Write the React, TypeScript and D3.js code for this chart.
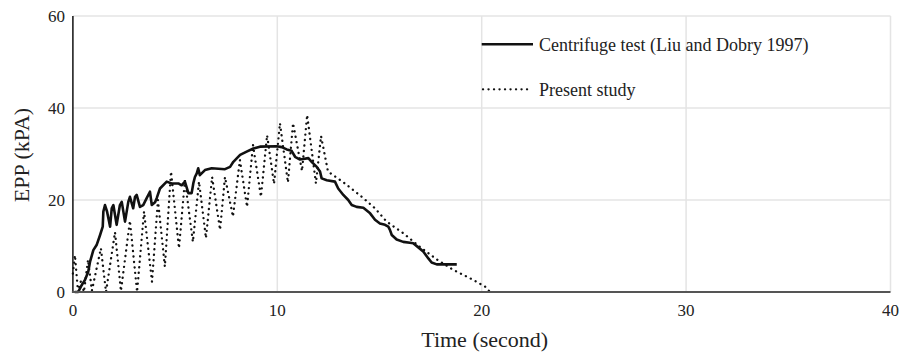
import React from "react";
import * as d3 from "d3";

// Centrifuge test record (Liu and Dobry 1997): time (s) and excess pore pressure (kPa)
const centrifugeTime = [
  0.09, 0.26, 0.43, 0.59, 0.75, 0.84, 1.0, 1.16, 1.33, 1.46, 1.49, 1.57, 1.67, 1.82, 1.9, 1.98,
  2.14, 2.3, 2.39, 2.55, 2.71, 2.79, 2.95, 3.04, 3.12, 3.28, 3.44, 3.61, 3.77, 3.86, 4.02, 4.1,
  4.26, 4.59, 4.83, 5.16, 5.32, 5.48, 5.65, 5.81, 5.89, 5.97, 6.06, 6.13, 6.21, 6.46, 6.79, 7.44,
  7.69, 7.85, 8.18, 8.5, 8.83, 9.15, 9.97, 10.22, 10.46, 10.7, 10.87, 11.11, 11.52, 11.68, 11.93,
  12.09, 12.17, 12.42, 12.82, 12.98, 13.23, 13.47, 13.64, 13.88, 14.21, 14.54, 14.78, 15.02, 15.27,
  15.43, 15.51, 15.6, 15.84, 16.16, 16.49, 16.65, 16.9, 17.14, 17.39, 17.55, 17.8, 18.78,
];
const centrifugeEPP = [
  0, 0, 1.5, 2.6, 4.4, 6.6, 9.1, 10.2, 12.4, 14.2, 17.5, 18.9, 17.5, 14.2, 18.2, 18.9,
  14.6, 18.9, 19.6, 15.3, 19.6, 20.7, 18.2, 20.7, 21.1, 18.5, 18.9, 20.4, 21.8, 18.9, 19.5, 20.4,
  22.5, 24, 23.6, 23.6, 23.2, 24, 21.5, 21.5, 23.6, 25, 25.8, 26.9, 25.4, 26.5, 26.9, 26.7,
  27.2, 28.3, 29.8, 30.5, 31.2, 31.6, 31.7, 31.5, 31, 30.7, 29.4, 28.8, 29.1, 28.3, 27.2,
  26.2, 24.7, 24.3, 24, 22.5, 21.1, 20, 18.9, 18.5, 18.3, 17.1, 15.7, 14.9, 14.6,
  14.2, 13.5, 12.4, 11.4, 10.9, 10.7, 10.6, 9.7, 8.8, 7.3, 6.4, 6.0, 6.0,
];

// Present study simulation: time (s) and excess pore pressure (kPa)
const presentTime = [
  0.0, 0.1, 0.25, 0.4, 0.54, 0.74, 0.93, 1.37, 1.62, 2.06, 2.35, 2.79, 3.14, 3.48, 3.87, 4.16,
  4.5, 4.8, 5.19, 5.48, 5.87, 6.17, 6.51, 6.81, 7.2, 7.44, 7.83, 8.17, 8.52, 8.81, 9.2, 9.5,
  9.84, 10.13, 10.52, 10.77, 11.21, 11.46, 11.89, 12.14, 12.48, 13.31, 14.13, 14.78, 15.35,
  16.16, 16.98, 17.8, 18.61, 19.43, 20.16, 20.41,
];
const presentEPP = [
  4, 8, 0, 2.5, 0, 7, 0.3, 9.5, 0, 13, 0.2, 15.5, 0, 17.5, 2.2, 20,
  5.5, 26.2, 9.5, 24.3, 10.9, 24, 11.7, 25, 13.5, 25, 16.4, 28.7, 18.5, 32, 20.7, 34.1,
  23.5, 36.7, 23.8, 36.7, 26.3, 38.5, 23.6, 33.9, 26.2, 23.6, 20.7, 18.2, 15.3,
  12.8, 9.8, 7.1, 4.8, 3.0, 1.2, 0,
];

const xTicks = [0, 10, 20, 30, 40];
const yTicks = [0, 20, 40, 60];
const seriesNames = ["Centrifuge test (Liu and Dobry 1997)", "Present study"];

const W = 915;
const H = 352;
const FONT = '"Liberation Serif", "Times New Roman", "DejaVu Serif", serif';

export default function App() {
  const x = d3.scaleLinear().domain([0, 40]).range([72.9, 890.5]);
  const y = d3.scaleLinear().domain([0, 60]).range([292, 16]);

  const line = d3
    .line<[number, number]>()
    .x((d) => x(d[0]))
    .y((d) => y(d[1]))
    .curve(d3.curveLinear);

  const centrifuge = centrifugeTime.map((t, i) => [t, centrifugeEPP[i]] as [number, number]);
  const present = presentTime.map((t, i) => [t, presentEPP[i]] as [number, number]);

  const dotted = { strokeDasharray: "0.1 5.4", strokeLinecap: "round" as const };
  const txt = { fontFamily: FONT, fill: "#222" };

  return (
    <svg
      width={W}
      height={H}
      style={{ position: "absolute", left: 0, top: 0, background: "#fff" }}
    >
      {/* grid */}
      {yTicks.filter((v) => v > 0).map((v) => (
        <line key={"gy" + v} x1={x(0)} x2={x(40)} y1={y(v)} y2={y(v)} stroke="#e4e4e4" strokeWidth={1.5} />
      ))}
      {xTicks.filter((v) => v > 0).map((v) => (
        <line key={"gx" + v} x1={x(v)} x2={x(v)} y1={y(0)} y2={y(60)} stroke="#e4e4e4" strokeWidth={1.5} />
      ))}

      {/* series */}
      <path d={line(present) ?? ""} fill="none" stroke="#111" strokeWidth={2.3} {...dotted} />
      <path d={line(centrifuge) ?? ""} fill="none" stroke="#111" strokeWidth={2.6} strokeLinejoin="round" />

      {/* axes */}
      <line x1={x(0)} x2={x(0)} y1={y(60)} y2={y(0)} stroke="#111" strokeWidth={1.5} />
      <line x1={x(0) - 1} x2={x(40)} y1={y(0)} y2={y(0)} stroke="#555" strokeWidth={2} />

      {yTicks.map((v) => (
        <text key={"ty" + v} x={65} y={y(v) + 6} textAnchor="end" fontSize={17} style={txt}>
          {v}
        </text>
      ))}
      {xTicks.map((v) => (
        <text key={"tx" + v} x={x(v)} y={316} textAnchor="middle" fontSize={17} style={txt}>
          {v}
        </text>
      ))}

      <text x={(x(0) + x(40)) / 2 + 3} y={347} textAnchor="middle" fontSize={22} style={txt}>
        Time (second)
      </text>
      <text
        transform={`translate(29, ${(y(0) + y(60)) / 2 + 1}) rotate(-90)`}
        textAnchor="middle"
        fontSize={22}
        style={txt}
      >
        EPP (kPA)
      </text>

      {/* legend */}
      <line x1={481.7} x2={533} y1={44.3} y2={44.3} stroke="#111" strokeWidth={2.6} />
      <text x={539} y={50.5} fontSize={18} style={txt}>
        {seriesNames[0]}
      </text>
      <line x1={483} x2={531} y1={89.3} y2={89.3} stroke="#111" strokeWidth={2.3} {...dotted} />
      <text x={539} y={95.5} fontSize={18} style={txt}>
        {seriesNames[1]}
      </text>
    </svg>
  );
}
